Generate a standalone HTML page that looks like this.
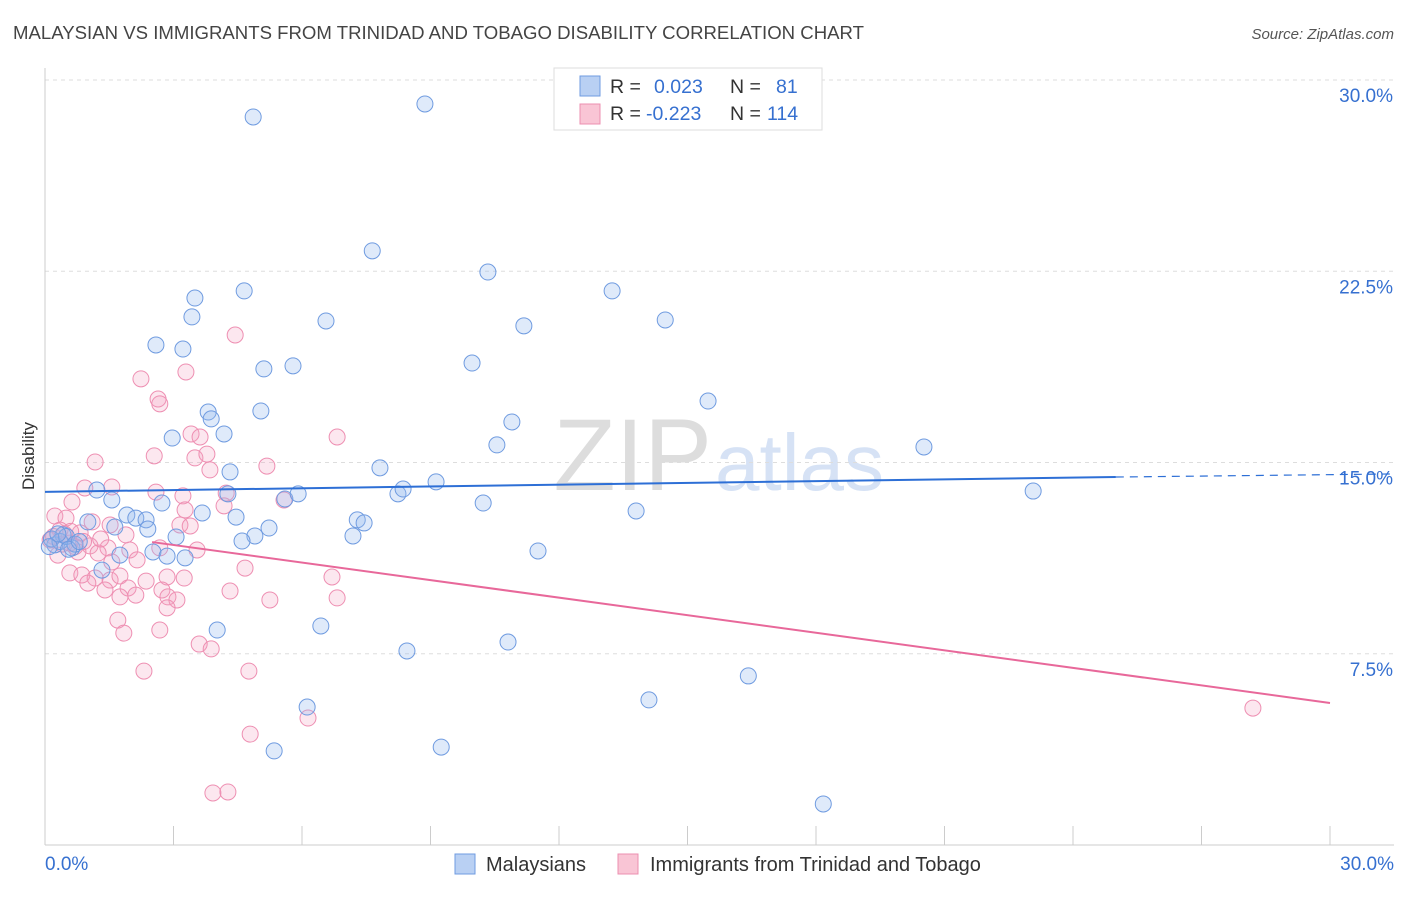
<!DOCTYPE html>
<html><head><meta charset="utf-8"><style>
body{margin:0;background:#fff;font-family:"Liberation Sans",sans-serif}
svg text{font-family:"Liberation Sans",sans-serif}
</style></head><body>
<svg width="1406" height="892" id="chart">
<text x="13" y="39" font-size="18.6" fill="#444">MALAYSIAN VS IMMIGRANTS FROM TRINIDAD AND TOBAGO DISABILITY CORRELATION CHART</text>
<text x="1394" y="39" font-size="15" fill="#555" font-style="italic" text-anchor="end">Source: ZipAtlas.com</text>
<text x="712" y="490" font-size="102" fill="#ddd" text-anchor="end" font-family="Liberation Serif">ZIP</text>
<text x="715" y="490" font-size="80" fill="#d6e2f5">atlas</text>
<g id="grid"></g>
<g id="axes"></g>
<g id="pts"></g>
<g id="trend"></g>
<text x="34" y="456" font-size="17" fill="#333" text-anchor="middle" transform="rotate(-90 34 456)">Disability</text>
<g>
<rect x="554" y="68" width="268" height="62" fill="#fff" stroke="#ddd"/>
<rect x="580" y="76" width="20" height="20" fill="#b9d0f3" stroke="#6f9be0"/>
<rect x="580" y="104" width="20" height="20" fill="#f9c5d5" stroke="#ec8fb0"/>
<text x="610" y="93" font-size="19.5" fill="#333">R = </text><text x="654" y="93" font-size="19.5" fill="#3670d0">0.023</text>
<text x="730" y="93" font-size="19.5" fill="#333">N = </text><text x="776" y="93" font-size="19.5" fill="#3670d0">81</text>
<text x="610" y="120" font-size="19.5" fill="#333">R = </text><text x="646" y="120" font-size="19.5" fill="#3670d0">-0.223</text>
<text x="730" y="120" font-size="19.5" fill="#333">N = </text><text x="767" y="120" font-size="19.5" fill="#3670d0">114</text>
</g>
<g>
<rect x="455" y="854" width="20" height="20" fill="#b9d0f3" stroke="#6f9be0"/>
<text x="486" y="871" font-size="20" fill="#333">Malaysians</text>
<rect x="618" y="854" width="20" height="20" fill="#f9c5d5" stroke="#ec8fb0"/>
<text x="650" y="871" font-size="20" fill="#333">Immigrants from Trinidad and Tobago</text>
</g>
</svg>
<script>
const yTicks=[7.5,15,22.5,30];
const yTickLabels=["7.5%","15.0%","22.5%","30.0%"];
const blueX=[4.86,8.87,7.64,10.34,4.65,3.50,13.24,3.43,6.56,11.18,14.48,2.59,3.22,5.11,5.79,9.97,15.48,3.81,3.88,5.04,10.9,4.18,2.97,10.55,20.52,4.32,7.82,9.13,1.21,1.56,4.27,5.6,5.91,8.24,8.36,10.23,2.73,23.07,3.67,4.46,7.29,7.45,13.8,1.91,2.12,2.36,1.0,1.63,5.23,2.40,4.9,4.6,7.19,3.06,0.23,0.63,0.42,11.51,1.75,2.52,2.85,3.27,1.33,4.02,6.44,8.45,10.81,16.42,14.1,6.12,5.35,9.25,18.17,0.15,0.35,0.5,0.7,0.3,0.55,0.8,0.1];
const blueY=[28.55,29.06,23.3,22.47,21.73,21.45,21.73,20.71,20.55,20.36,20.59,19.61,19.45,18.67,18.79,18.9,17.41,16.98,16.71,17.02,16.59,16.12,15.96,15.69,15.61,14.63,14.79,14.24,13.92,13.53,13.77,13.57,13.77,13.77,13.96,13.41,13.41,13.88,13.02,12.86,12.75,12.63,13.1,12.94,12.82,12.75,12.67,12.47,12.43,12.39,12.12,11.92,12.12,12.08,11.77,11.65,12.16,11.53,11.37,11.49,11.33,11.26,10.78,8.43,8.59,7.61,7.96,6.63,5.69,5.41,3.69,3.84,1.61,12.0,11.9,12.1,11.8,12.2,11.6,11.9,11.7];
const pinkX=[4.44,2.24,3.29,2.64,2.68,6.82,3.41,3.62,2.55,3.50,3.78,5.18,1.17,3.85,1.56,0.93,2.59,3.22,4.23,5.58,0.63,3.27,4.18,0.23,0.49,1.1,1.52,3.15,3.39,0.35,0.82,1.89,0.12,0.58,1.05,1.47,1.98,2.68,3.55,0.30,0.77,1.24,1.56,2.15,4.67,0.58,0.86,1.17,1.52,1.75,2.36,2.85,3.25,6.7,1.0,1.94,2.73,1.40,1.75,2.12,2.87,3.08,4.32,5.25,6.82,2.85,1.70,2.68,1.84,3.6,3.88,2.31,4.76,6.14,4.79,3.92,4.27,28.2,0.2,0.4,0.6,0.9,0.15,0.45,0.7,1.3];
const pinkY=[20.0,18.28,18.55,17.49,17.3,16.0,16.12,16.0,15.26,15.18,15.33,14.86,15.02,14.71,14.04,14.0,13.84,13.69,13.8,13.53,13.45,13.14,13.3,12.9,12.82,12.67,12.55,12.55,12.51,12.35,12.24,12.16,11.96,11.84,11.73,11.65,11.57,11.65,11.57,11.37,11.49,11.45,11.1,11.18,10.86,10.67,10.59,10.47,10.39,10.55,10.35,10.51,10.47,10.51,10.27,10.08,10.0,10.0,9.73,9.8,9.73,9.61,9.96,9.61,9.69,9.3,8.82,8.43,8.31,7.88,7.69,6.82,6.82,4.98,4.35,2.04,2.08,5.37,12.1,11.8,12.3,11.9,12.0,12.2,11.7,12.0];
const blueTrend=[[0,13.85],[25,14.43]];
const blueTrendDash=[[25,14.43],[31.4,14.55]];
const pinkTrend=[[2.5,11.88],[30,5.57]];
const NS="http://www.w3.org/2000/svg";
const X=v=>45+v/30*1285, Y=v=>845-v/30*765;
function mk(t,a,p){const e=document.createElementNS(NS,t);for(const k in a)e.setAttribute(k,a[k]);p.appendChild(e);return e;}
const grid=document.getElementById('grid'),axes=document.getElementById('axes'),pts=document.getElementById('pts'),tr=document.getElementById('trend');
yTicks.forEach((t,i)=>{
 const l=mk('line',{x1:45,x2:1394,y1:Y(t),y2:Y(t),stroke:'#ddd','stroke-dasharray':'4,4'},grid);
 
 
 const tx=mk('text',{x:1393,y:Y(t)+22,'font-size':19,fill:'#3670d0','text-anchor':'end'},axes);
 tx.textContent=yTickLabels[i];
 
 
});
const ax=mk('line',{x1:45,x2:45,y1:68,y2:845,stroke:'#ccc'},axes);


const bx=mk('line',{x1:45,x2:1394,y1:845,y2:845,stroke:'#ccc'},axes);


for(let i=0;i<=10;i++){const tk=mk('line',{x1:X(i*3),x2:X(i*3),y1:826,y2:845,stroke:'#ccc'},axes);
 
 }
[["0.0%",45,'start'],["30.0%",1394,'end']].forEach(d=>{const t=mk('text',{x:d[1],y:870,'font-size':19,fill:'#3670d0','text-anchor':d[2]},axes);t.textContent=d[0];
 
 });
pinkX.forEach((v,i)=>{const c=mk('circle',{cx:X(v),cy:Y(pinkY[i]),r:8,fill:'rgba(244,160,190,0.25)',stroke:'#ee8fb2','stroke-width':1},pts);
 
 });
blueX.forEach((v,i)=>{const c=mk('circle',{cx:X(v),cy:Y(blueY[i]),r:8,fill:'rgba(150,185,240,0.3)',stroke:'#6f9be0','stroke-width':1},pts);
 
 });
function ln(p,st,dash,name){const l=mk('line',{x1:X(p[0][0]),y1:Y(p[0][1]),x2:X(p[1][0]),y2:Y(p[1][1]),stroke:st,'stroke-width':2},tr);if(dash){l.setAttribute('stroke-dasharray','8,6');l.setAttribute('stroke-width',1.2);}
 
 }
ln(blueTrend,'#2d6fd6',false,'malaysian-trend-line');
ln(blueTrendDash,'#2d6fd6',true,'malaysian-trend-extension');
ln(pinkTrend,'#e8689a',false,'immigrant-trend-line');
</script>
</body></html>
